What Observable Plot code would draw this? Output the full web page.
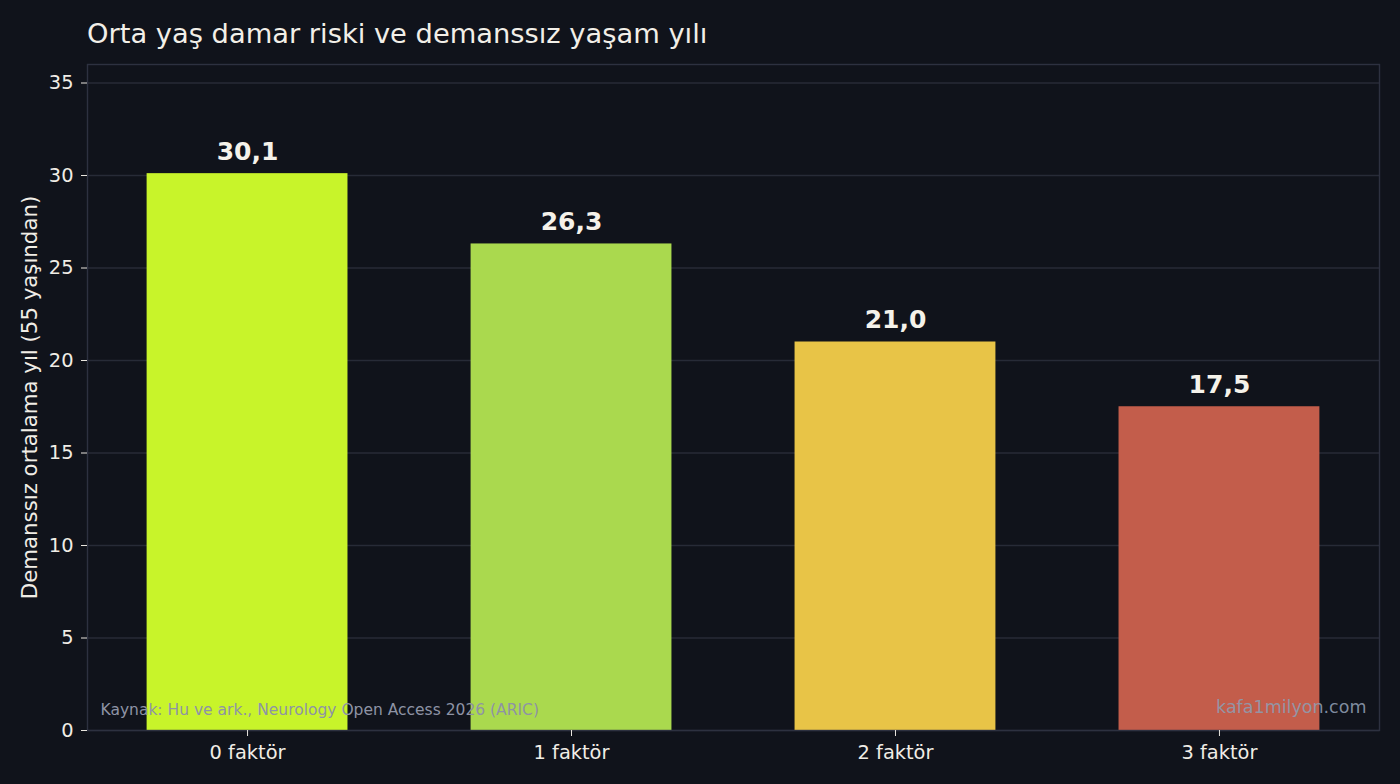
<!DOCTYPE html>
<html>
<head>
<meta charset="utf-8">
<script src="https://cdn.jsdelivr.net/npm/d3@7"></script>
<script src="https://cdn.jsdelivr.net/npm/@observablehq/plot@0.6"></script>
<style>
  html, body { margin: 0; padding: 0; background: #10131b; }
  #wrap { width: 1400px; height: 784px; overflow: hidden; background: #10131b; }
  #title { height: 50px; box-sizing: border-box; padding-top: 20px; padding-left: 87px;
           font-family: "DejaVu Sans", sans-serif; font-size: 27.3px; line-height: 27px;
           color: #f2efe8; white-space: nowrap; }
</style>
</head>
<body>
<div id="wrap">
  <div id="title">Orta yaş damar riski ve demanssız yaşam yılı</div>
  <div id="chart"></div>
</div>
<script>
const categories = ["0 faktör", "1 faktör", "2 faktör", "3 faktör"];
const values = [30.1, 26.3, 21.0, 17.5];
const barColors = ["#c8f42a", "#aad94e", "#e8c447", "#c35d4b"];
const yTicks = [0, 5, 10, 15, 20, 25, 30, 35];
const yLabel = "Demanssız ortalama yıl (55 yaşından)";
const sourceText = "Kaynak: Hu ve ark., Neurology Open Access 2026 (ARIC)";
const watermark = "kafa1milyon.com";

const data = categories.map((c, i) => ({cat: c, val: values[i]}));
const fmt = v => d3.format(".1f")(v).replace(".", ",");

const chart = Plot.plot({
  width: 1400,
  height: 734,
  marginLeft: 87,
  marginRight: 21,
  marginTop: 14,
  marginBottom: 54,
  style: {background: "#10131b", color: "#f0ede6", fontFamily: "DejaVu Sans, sans-serif"},
  x: {domain: categories, paddingInner: 0.38, paddingOuter: 0.184, round: false},
  y: {domain: [0, 36]},
  color: {domain: categories, range: barColors},
  marks: [
    Plot.gridY(yTicks, {stroke: "#272b37", strokeOpacity: 1, strokeWidth: 1.4}),
    Plot.barY(data, {x: "cat", y: "val", fill: "cat"}),
    Plot.frame({stroke: "#2d3140", strokeWidth: 1.4}),
    Plot.axisY(yTicks, {tickSize: 6, tickPadding: 8, fontSize: 19.4, label: null, stroke: "#e8e5de"}),
    Plot.axisX({tickSize: 6, tickPadding: 8.5, fontSize: 19.4, label: null, stroke: "#e8e5de"}),
    Plot.text(data, {x: "cat", y: "val", text: d => fmt(d.val), dy: -22, fontSize: 25, fontWeight: "bold", fill: "#f5f2ea"}),
    Plot.text([yLabel], {frameAnchor: "left", textAnchor: "middle", rotate: -90, dx: -57, fontSize: 21.3, fill: "#f0ede6"}),
    Plot.text([sourceText], {frameAnchor: "bottom-left", dx: 13, dy: -16, textAnchor: "start", fontSize: 15.5, fill: "#8e93a5"}),
    Plot.text([watermark], {frameAnchor: "bottom-right", dx: -13, dy: -18, textAnchor: "end", fontSize: 17.5, fill: "#8e9cb0", fillOpacity: 0.9})
  ]
});
document.getElementById("chart").appendChild(chart);
</script>
</body>
</html>
